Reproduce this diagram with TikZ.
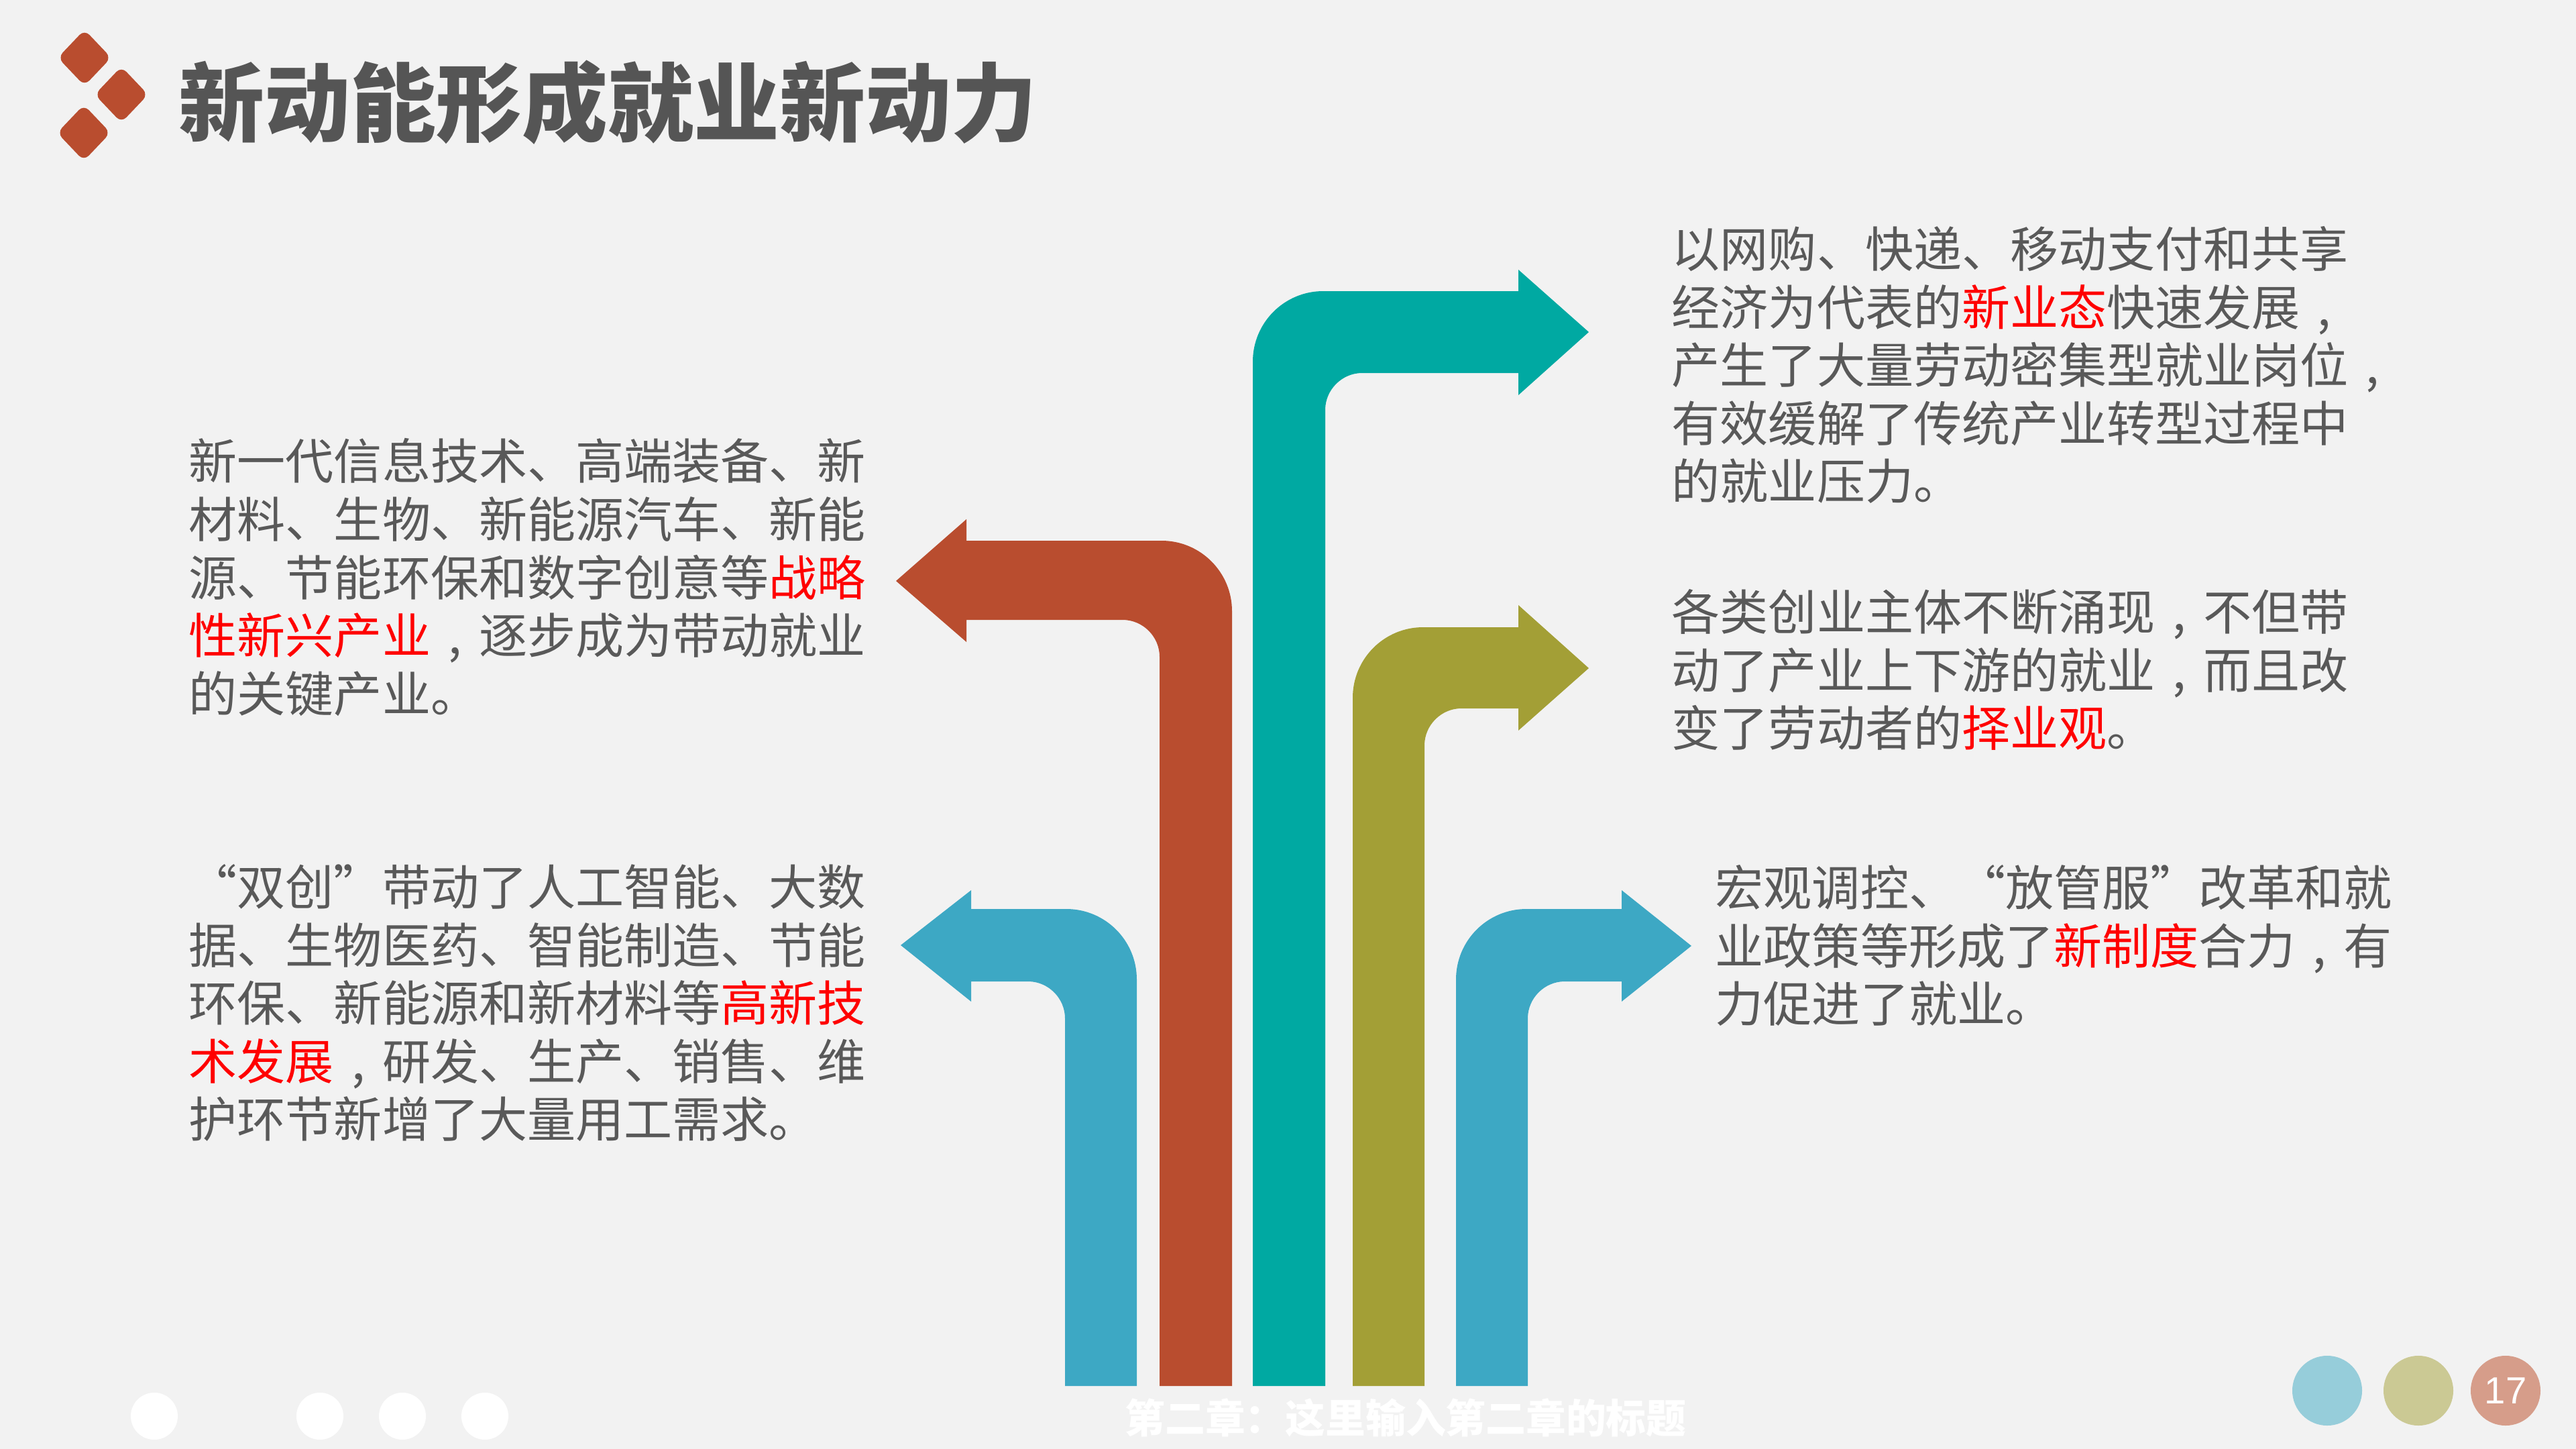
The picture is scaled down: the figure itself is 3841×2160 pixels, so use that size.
\documentclass[tikz,border=0pt]{standalone}
\usepackage{fontspec}
\usepackage{tikz}
\usetikzlibrary{shapes.geometric, positioning}

\setmainfont{Noto Sans CJK SC}
\newfontfamily\numfont{Liberation Sans}

\definecolor{bgGray}{HTML}{F2F2F2}
\definecolor{txtGray}{HTML}{595959}
\definecolor{titleGray}{HTML}{555555}
\definecolor{hiRed}{HTML}{FF0000}
\definecolor{barBlue}{HTML}{3DA8C4}
\definecolor{barRed}{HTML}{B94D2F}
\definecolor{barTeal}{HTML}{00A9A2}
\definecolor{barOlive}{HTML}{A39F36}
\definecolor{dotBlue}{HTML}{96CDDA}
\definecolor{dotKhaki}{HTML}{CBC994}
\definecolor{dotSalmon}{HTML}{D69D8A}

% full-width quotes and comma
\newcommand{\cnlq}{\makebox[1em][r]{“}}
\newcommand{\cnrq}{\makebox[1em][l]{”}}
\newcommand{\cncomma}{\makebox[1em][c]{,}}

\begin{document}
\begin{tikzpicture}[
        x=0.01cm, y=-0.01cm,
        % Define styles for the nodes
        body_text/.style={anchor=north west, inner sep=0pt, align=left, text=txtGray, font=\fontsize{20.5pt}{24.6pt}\selectfont},
        title_text/.style={anchor=west, inner sep=0pt, text=titleGray, font=\fontsize{36.4pt}{40pt}\selectfont\bfseries},
        mark_diamond/.style={diamond, fill=barRed, inner sep=0pt, minimum width=0.8cm, minimum height=0.84cm, rounded corners=3pt},
        page_dot/.style={circle, fill=white, inner sep=0pt, minimum size=0.7cm},
        nav_dot/.style={circle, inner sep=0pt, minimum size=1.04cm}
    ]

    % background and page size
    \fill [bgGray] (0,0) rectangle (3841,2160);
    \useasboundingbox (0,0) rectangle (3841,2160);

    % ==============================================
    % === TITLE ===
    % ==============================================
    \node (mark1) [mark_diamond] at (126,86) {};
    \node (mark2) [mark_diamond] at (181,141) {};
    \node (mark3) [mark_diamond] at (125,198) {};
    \node (title) [title_text] at (266,153) {新动能形成就业新动力};

    % ==============================================
    % === BENT ARROWS ===
    % ==============================================
    % left blue arrow
    \fill [barBlue] (1695,2066) -- (1695,1460) .. controls (1695,1402) and (1648,1355) .. (1590,1355) -- (1448,1355) -- (1448,1327) -- (1343,1409) -- (1448,1493) -- (1448,1463) -- (1533,1463) .. controls (1563,1463) and (1588,1488) .. (1588,1518) -- (1588,2066) -- cycle;

    % red arrow
    \fill [barRed] (1837,2066) -- (1837,911) .. controls (1837,853) and (1790,806) .. (1732,806) -- (1441,806) -- (1441,774) -- (1336,866) -- (1441,957) -- (1441,924) -- (1674,924) .. controls (1704,924) and (1729,949) .. (1729,979) -- (1729,2066) -- cycle;

    % teal arrow (tallest)
    \fill [barTeal] (1868,2066) -- (1868,539) .. controls (1868,481) and (1915,434) .. (1973,434) -- (2264,434) -- (2264,402) -- (2369,495) -- (2264,589) -- (2264,556) -- (2031,556) .. controls (2001,556) and (1976,581) .. (1976,611) -- (1976,2066) -- cycle;

    % olive arrow
    \fill [barOlive] (2017,2066) -- (2017,1040) .. controls (2017,982) and (2064,935) .. (2122,935) -- (2264,935) -- (2264,902) -- (2369,996) -- (2264,1089) -- (2264,1056) -- (2179,1056) .. controls (2149,1056) and (2124,1081) .. (2124,1111) -- (2124,2066) -- cycle;

    % right blue arrow
    \fill [barBlue] (2171,2066) -- (2171,1460) .. controls (2171,1402) and (2218,1355) .. (2276,1355) -- (2418,1355) -- (2418,1327) -- (2522,1410) -- (2418,1493) -- (2418,1463) -- (2333,1463) .. controls (2303,1463) and (2278,1488) .. (2278,1518) -- (2278,2066) -- cycle;

    % ==============================================
    % === TEXT BLOCKS ===
    % ==============================================
    \node (ind_text) [body_text] at (281,653) {新一代信息技术、高端装备、新\\
        材料、生物、新能源汽车、新能\\
        源、节能环保和数字创意等\textcolor{hiRed}{战略}\\
        \textcolor{hiRed}{性新兴产业}\cncomma 逐步成为带动就业\\
        的关键产业。};

    \node (tech_text) [body_text] at (281,1288) {\cnlq 双创\cnrq 带动了人工智能、大数\\
        据、生物医药、智能制造、节能\\
        环保、新能源和新材料等\textcolor{hiRed}{高新技}\\
        \textcolor{hiRed}{术发展}\cncomma 研发、生产、销售、维\\
        护环节新增了大量用工需求。};

    \node (form_text) [body_text] at (2492,337) {以网购、快递、移动支付和共享\\
        经济为代表的\textcolor{hiRed}{新业态}快速发展\cncomma\\
        产生了大量劳动密集型就业岗位\cncomma\\
        有效缓解了传统产业转型过程中\\
        的就业压力。};

    \node (entre_text) [body_text] at (2492,878) {各类创业主体不断涌现\cncomma 不但带\\
        动了产业上下游的就业\cncomma 而且改\\
        变了劳动者的\textcolor{hiRed}{择业观}。};

    \node (policy_text) [body_text] at (2557,1289) {宏观调控、\cnlq 放管服\cnrq 改革和就\\
        业政策等形成了\textcolor{hiRed}{新制度}合力\cncomma 有\\
        力促进了就业。};

    % ==============================================
    % === FOOTER ===
    % ==============================================
    \node (dot1) [page_dot] at (230,2111) {};
    \node (dot2) [page_dot] at (477,2111) {};
    \node (dot3) [page_dot] at (600,2111) {};
    \node (dot4) [page_dot] at (723,2111) {};

    \node (chapter) [inner sep=0pt, text=white, font=\fontsize{17pt}{20pt}\selectfont\bfseries] at (2096,2113) {第二章：这里输入第二章的标题};

    \node (nav1) [nav_dot, fill=dotBlue] at (3470,2073) {};
    \node (nav2) [nav_dot, fill=dotKhaki] at (3606,2073) {};
    \node (nav3) [nav_dot, fill=dotSalmon, text=white, font=\numfont\fontsize{16pt}{18pt}\selectfont] at (3736,2073) {17};

\end{tikzpicture}
\end{document}
